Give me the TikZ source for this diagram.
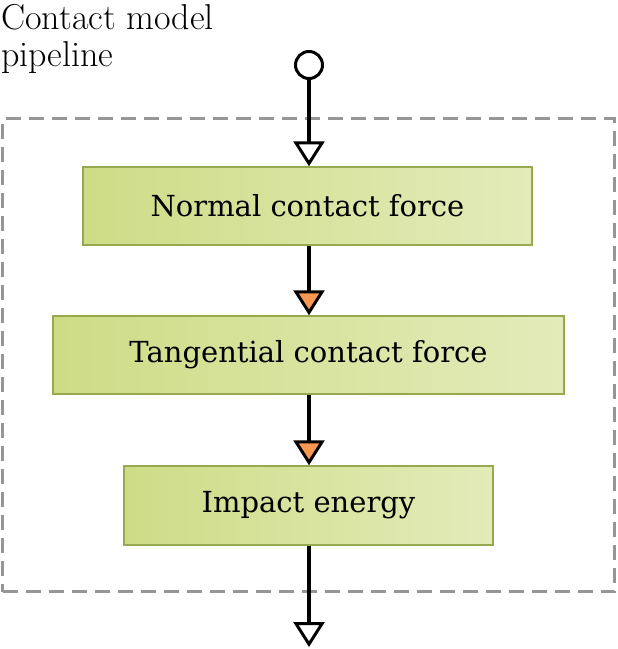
\documentclass[tikz,border=0pt]{standalone}
\usepackage{fontspec}
\usetikzlibrary{arrows.meta}
\newfontfamily\boxfont{DejaVu Serif}
\definecolor{boxleft}{RGB}{206,220,134}
\definecolor{boxright}{RGB}{227,235,185}
\definecolor{boxborder}{RGB}{150,168,80}
\definecolor{dashgray}{RGB}{150,150,150}
\definecolor{tiporange}{RGB}{248,152,82}
\tikzset{
  stagebox/.style={draw=boxborder, line width=1.5pt, left color=boxleft, right color=boxright,
    minimum height=78pt, inner sep=0pt, font=\boxfont\fontsize{29}{34}\selectfont},
  flow/.style={line width=4pt, black},
  opentip/.style={-{Triangle[open, length=25pt, width=31pt, line width=3pt, fill=white]}},
  orangetip/.style={-{Triangle[length=25pt, width=31pt, line width=3pt, fill=tiporange]}},
  frame/.style={draw=dashgray, line width=3.5pt, dash pattern=on 15pt off 8pt},
}
\begin{document}
\begin{tikzpicture}[x=1pt,y=-1pt]
\useasboundingbox (0,0) rectangle (618,649);
\node[frame, minimum width=612pt, minimum height=473pt, inner sep=0pt] (frame) at (308.5,355) {};
\node[anchor=north west, inner sep=0pt, align=left, font=\fontsize{36}{37}\selectfont] (title) at (1,4) {Contact model\\pipeline};
\node[draw, circle, line width=3pt, minimum size=27pt, inner sep=0pt, fill=white] (start) at (309,65) {};
\node[stagebox, minimum width=449pt] (normal) at (307.5,206) {Normal contact force};
\node[stagebox, minimum width=511pt] (tang) at (308.5,355) {Tangential contact force};
\node[stagebox, minimum width=369pt, minimum height=79pt] (impact) at (308.5,505.5) {Impact energy};
\coordinate (out) at (309,647);
\draw[flow, opentip] (start.south) -- (normal.north -| start);
\draw[flow, orangetip] (normal.south -| start) -- (tang.north -| start);
\draw[flow, orangetip] (tang.south -| start) -- (impact.north -| start);
\draw[flow, opentip] (impact.south -| start) -- (out);
\end{tikzpicture}
\end{document}
